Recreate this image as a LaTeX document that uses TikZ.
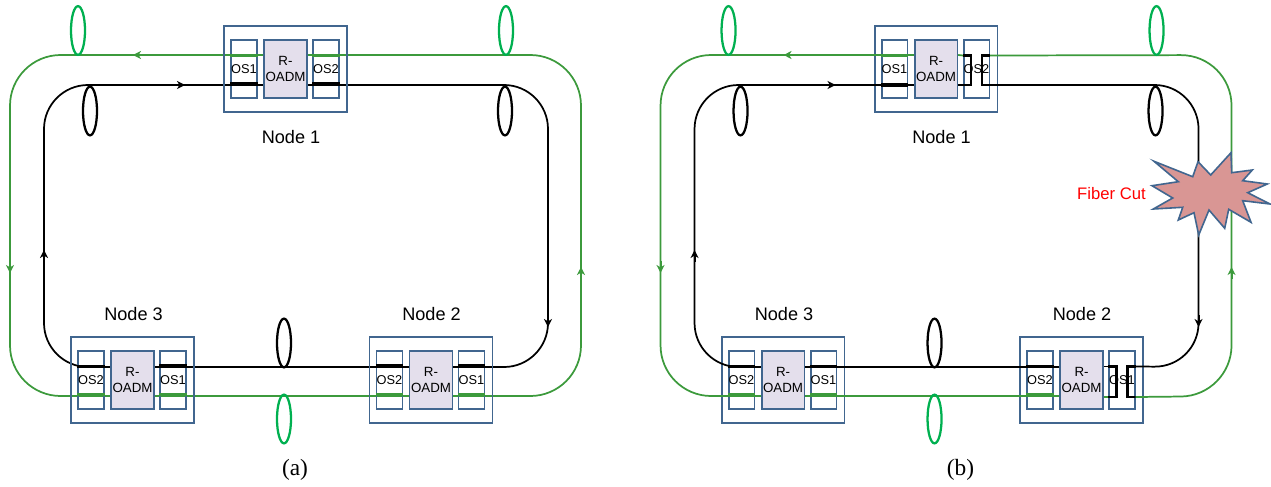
\documentclass[tikz,border=0pt]{standalone}
\usepackage{fontspec}
\setmainfont{Liberation Sans}
\newfontfamily\capfont{Liberation Serif}
\usetikzlibrary{arrows.meta,shapes.geometric}
\definecolor{boxblue}{HTML}{41668F}
\definecolor{ringgreen}{HTML}{3C9A3C}
\definecolor{fibergreen}{HTML}{00B050}
\definecolor{roadmfill}{HTML}{E4DFEC}
\definecolor{starfill}{HTML}{D99694}
\tikzset{
  px/.style={x=0.75pt,y=-0.75pt},
  outerbox/.style={draw=boxblue,line width=1.2pt,minimum width=92pt,minimum height=64.5pt,inner sep=0pt},
  osbox/.style={draw=boxblue,line width=1.2pt,minimum width=19pt,minimum height=43.5pt,inner sep=0pt,font=\fontsize{9.6}{11}\selectfont},
  roadm/.style={draw=boxblue,fill=roadmfill,line width=1.2pt,minimum width=32pt,minimum height=43.5pt,inner sep=0pt,align=center,font=\fontsize{10}{12.5}\selectfont},
  blackring/.style={draw=black,line width=1.3pt,rounded corners=33pt},
  greenring/.style={draw=ringgreen,line width=1.3pt,rounded corners=38pt},
  greenline/.style={draw=ringgreen,line width=1.3pt},
  blackline/.style={draw=black,line width=1.3pt},
  greenbar/.style={draw=ringgreen,line width=2.6pt},
  blackbar/.style={draw=black,line width=2.6pt},
  bracketline/.style={draw=black,line width=1.9pt},
  blackarrow/.style={draw=black,line width=1.5pt,-{Stealth[length=6pt,width=6pt,inset=1.8pt]}},
  greenarrow/.style={draw=ringgreen,line width=1.5pt,-{Stealth[length=6pt,width=6pt,inset=1.8pt]}},
  fiberblack/.style={draw=black,line width=1.7pt,ellipse,minimum width=10.5pt,minimum height=36.5pt,inner sep=0pt},
  fibergreenl/.style={draw=fibergreen,line width=1.7pt,ellipse,minimum width=10.5pt,minimum height=36.5pt,inner sep=0pt},
  sitelabel/.style={font=\fontsize{13.6}{16}\selectfont,inner sep=0pt},
  caption/.style={font=\capfont\fontsize{17.5}{20}\selectfont,inner sep=0pt},
}
\newcommand{\ringcoords}{%
  \coordinate (bTL) at (44,85); \coordinate (bTR) at (548,85);
  \coordinate (bBR) at (548,367); \coordinate (bBL) at (44,367);
  \coordinate (gTL) at (10,55); \coordinate (gTR) at (581,55);
  \coordinate (gBR) at (581,396); \coordinate (gBL) at (10,396);
  \coordinate (n1b) at (285.5,85); \coordinate (n1g) at (285.5,55);
  \coordinate (n2b) at (431,367); \coordinate (n2g) at (431,396);
  \coordinate (n3b) at (132.5,367); \coordinate (n3g) at (132.5,396);
}
\newcommand{\ringextras}{%
  \coordinate (a1s) at (133,85); \coordinate (a1e) at (185,85);
  \coordinate (a2s) at (185,55); \coordinate (a2e) at (133,55);
  \coordinate (a3s) at (548,315); \coordinate (a3e) at (548,327);
  \coordinate (a4s) at (44,262); \coordinate (a4e) at (44,250);
  \coordinate (a5s) at (10,261); \coordinate (a5e) at (10,273);
  \coordinate (a6s) at (581,279); \coordinate (a6e) at (581,267);
  \draw[blackarrow] (a1s) -- (a1e);
  \draw[greenarrow] (a2s) -- (a2e);
  \draw[blackarrow] (a3s) -- (a3e);
  \draw[blackarrow] (a4s) -- (a4e);
  \draw[greenarrow] (a5s) -- (a5e);
  \draw[greenarrow] (a6s) -- (a6e);
  \node[fibergreenl] (fg1) at (78,30.5) {};
  \node[fibergreenl] (fg2) at (506,30.5) {};
  \node[fibergreenl] (fg3) at (284,419) {};
  \node[fiberblack] (fb1) at (90,111) {};
  \node[fiberblack] (fb2) at (505,111) {};
  \node[fiberblack] (fb3) at (284,343) {};
}
\newcommand{\site}[5]{%
  \node[outerbox] (#1o) at (#2,#3) {};
  \node[osbox] (#1l) at ({#2-41.5},#3) {#4};
  \node[roadm] (#1r) at (#2,#3) {R-\\OADM};
  \node[osbox] (#1t) at ({#2+40.5},#3) {#5};
}
\newcommand{\bars}[3]{%
  \coordinate (#1gw) at (#1.west |- 0,#2); \coordinate (#1ge) at (#1.east |- 0,#2);
  \coordinate (#1bw) at (#1.west |- 0,#3); \coordinate (#1be) at (#1.east |- 0,#3);
  \draw[greenbar] (#1gw) -- (#1ge);
  \draw[blackbar] (#1bw) -- (#1be);
}
\newcommand{\brackets}[3]{%
  \coordinate (#1lg0) at (#1.west |- 0,#2); \coordinate (#1lb0) at (#1.west |- 0,#3);
  \coordinate (#1lg1) at ([xshift=6.2pt]#1.west |- 0,#2); \coordinate (#1lb1) at ([xshift=6.2pt]#1.west |- 0,#3);
  \coordinate (#1rg0) at (#1.east |- 0,#2); \coordinate (#1rb0) at (#1.east |- 0,#3);
  \coordinate (#1rg1) at ([xshift=-6pt]#1.east |- 0,#2); \coordinate (#1rb1) at ([xshift=-6pt]#1.east |- 0,#3);
  \draw[bracketline] (#1lg0) -- (#1lg1) -- (#1lb1) -- (#1lb0);
  \draw[bracketline] (#1rg0) -- (#1rg1) -- (#1rb1) -- (#1rb0);
}
\begin{document}
\begin{tikzpicture}[px]
\useasboundingbox (0,0) rectangle (1271,486);
\begin{scope}[name prefix=a-]
  \ringcoords
  \draw[greenring] (n1g) -- (gTL) -- (gBL) -- (n3g) -- (n2g) -- (gBR) -- (gTR) -- cycle;
  \draw[blackring] (n1b) -- (bTR) -- (bBR) -- (n2b) -- (n3b) -- (bBL) -- (bTL) -- cycle;
  \ringextras
  \site{s1}{285.5}{69}{OS1}{OS2}
  \site{s2}{431}{380}{OS2}{OS1}
  \site{s3}{132.5}{380}{OS2}{OS1}
  \bars{s1l}{55.5}{84}
  \bars{s1t}{55.5}{84}
  \bars{s2l}{394.5}{366}
  \bars{s2t}{394.5}{366}
  \bars{s3l}{394.5}{366.5}
  \bars{s3t}{394.5}{366}
  \node[sitelabel] (l1) at (291,137) {Node 1};
  \node[sitelabel] (l2) at (431.5,314) {Node 2};
  \node[sitelabel] (l3) at (133.5,314) {Node 3};
  \node[caption] (ca) at (295,470) {(a)};
\end{scope}
\begin{scope}[name prefix=b-,xshift=487.9pt]
  \ringcoords
  \site{s1}{285.5}{69}{OS1}{OS2}
  \site{s2}{431}{380}{OS2}{OS1}
  \site{s3}{132.5}{380}{OS2}{OS1}
  \brackets{s1t}{55.5}{85}
  \brackets{s2t}{366.5}{397}
  \draw[greenring] (s1trg0) -- (gTR) -- (gBR) -- (s2trb0);
  \draw[blackring] (s1trb0) -- (bTR) -- (bBR) -- (s2trg0);
  \draw[greenline] (s2tlb0) -- (s2r.east |- s2tlb0);
  \draw[blackline] (s2tlg0) -- (s2r.east |- s2tlg0);
  \draw[greenline] (s2r.west |- n2g) -- (s3t.east |- n3g);
  \draw[blackline] (s2r.west |- n2b) -- (s3t.east |- n3b);
  \draw[greenline] (s3r.east |- n3g) -- (s3t.west |- n3g);
  \draw[blackline] (s3r.east |- n3b) -- (s3t.west |- n3b);
  \draw[greenring] (s3l.east |- n3g) -- (gBL) -- (gTL) -- (s1l.east |- n1g);
  \draw[blackring] (s3l.east |- n3b) -- (bBL) -- (bTL) -- (s1l.east |- n1b);
  \draw[greenline] (s3l.east |- n3g) -- (s3r.west |- n3g);
  \draw[blackline] (s3l.east |- n3b) -- (s3r.west |- n3b);
  \draw[greenline] (s1l.east |- n1g) -- (s1r.west |- n1g);
  \draw[blackline] (s1l.east |- n1b) -- (s1r.west |- n1b);
  \draw[greenline] (s1r.east |- n1g) -- (s1tlg0);
  \draw[blackline] (s1r.east |- n1b) -- (s1tlb0);
  \ringextras
  \bars{s1l}{55.5}{85}
  \bars{s2l}{395}{366.5}
  \bars{s3l}{395}{366.5}
  \bars{s3t}{395}{366.5}
  \node[sitelabel] (l1) at (291,137) {Node 1};
  \node[sitelabel] (l2) at (431.5,314) {Node 2};
  \node[sitelabel] (l3) at (133.5,314) {Node 3};
  \node[caption] (cb) at (310,470) {(b)};
\end{scope}
\draw[draw=boxblue,fill=starfill,line width=1.2pt,line join=miter]
  (1154,161.3) -- (1192.7,176.7) -- (1198,161.7) -- (1210.7,175) -- (1231,152.7) -- (1231.7,172.7) -- (1252.3,170)
  -- (1242.7,180.7) -- (1267.3,184) -- (1247.7,192.7) -- (1270,204) -- (1242.7,200.7) -- (1251,222.3)
  -- (1228.7,209.3) -- (1224.7,228.3) -- (1209,210) -- (1198.7,235) -- (1194,212.7) -- (1178.3,220)
  -- (1182.7,207.3) -- (1153.3,209) -- (1172.7,198) -- (1152,185.7) -- (1178.3,181.7) -- cycle;
\node[font=\fontsize{12.5}{15}\selectfont,text=red,inner sep=0pt] (cut) at (1111.5,194) {Fiber Cut};
\end{tikzpicture}
\end{document}
